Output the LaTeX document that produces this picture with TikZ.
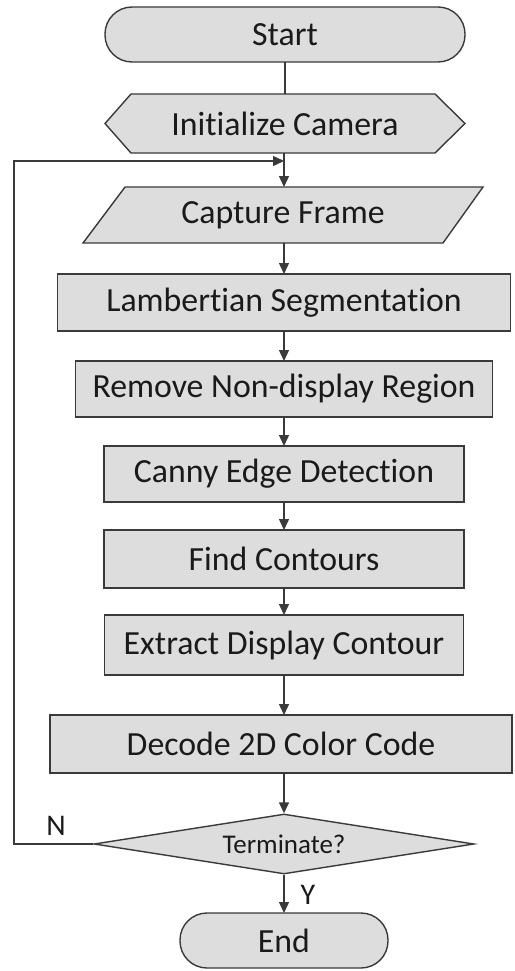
\documentclass[tikz,border=0pt]{standalone}
\usepackage{fontspec}
\setmainfont[Ligatures=NoCommon]{Carlito}
\usetikzlibrary{shapes.geometric,arrows.meta}
\definecolor{boxfill}{HTML}{DDDDDD}
\definecolor{boxline}{HTML}{3A3A3A}
\definecolor{txt}{HTML}{1A1A1A}
\begin{document}
\begin{tikzpicture}[x=1pt,y=-1pt,
  lbl/.style={text=txt,font=\fontsize{33.8}{38}\selectfont,inner sep=0pt,outer sep=0pt},
  procbox/.style={lbl,draw=boxline,fill=boxfill,line width=1.4pt,minimum height=57pt},
  ghost/.style={lbl,draw=none,minimum height=#1},
  term/.style={procbox,rounded corners=27pt,minimum height=55pt},
  decision/.style={diamond,draw=boxline,fill=boxfill,line width=1.4pt,text=txt,
     font=\fontsize{27}{30}\selectfont,minimum width=380pt,minimum height=60pt,inner sep=0pt,aspect=6.3},
  conn/.style={draw=boxline,line width=1.4pt},
  arr/.style={conn,-{Triangle[length=11pt,width=10pt]}},
  outline/.style={draw=boxline,fill=boxfill,line width=1.4pt,line join=miter},
  yn/.style={lbl,font=\fontsize{30}{34}\selectfont}
]
\useasboundingbox (0,0) rectangle (514,971);

\node[term,minimum width=360pt] (start) at (285,34.5) {Start};

\node[ghost=59pt,minimum width=360pt] (init) at (285,123.5) {};
\path[outline] (init.west) -- ([xshift=26pt]init.north west) -- ([xshift=-30pt]init.north east)
   -- (init.east) -- ([xshift=-30pt]init.south east) -- ([xshift=26pt]init.south west) -- cycle;
\node[lbl] at (init) {Initialize Camera};

\node[ghost=56pt,minimum width=400pt] (cap) at (283,215) {};
\path[outline] ([xshift=42pt]cap.north west) -- (cap.north east) -- ([xshift=-40pt]cap.south east)
   -- (cap.south west) -- cycle;
\node[lbl] at (cap) {Capture Frame};

\node[procbox,minimum width=453pt] (lamb) at (284,302.5) {Lambertian Segmentation};
\node[procbox,minimum width=417pt,minimum height=56pt] (remove) at (284,389) {Remove Non-display Region};
\node[procbox,minimum width=360pt,minimum height=56pt] (canny) at (284,474) {Canny Edge Detection};
\node[procbox,minimum width=360pt,minimum height=58pt] (find) at (284,559) {Find Contours};
\node[procbox,minimum width=359pt,minimum height=60pt] (extract) at (284,645) {Extract Display Contour};
\node[procbox,minimum width=462pt,minimum height=58pt] (decode) at (281,744) {Decode 2D Color Code};
\node[decision] (term) at (284,844) {Terminate?};
\node[term,minimum width=208pt] (end) at (284,940.5) {End};

\coordinate (loopA) at (14,844);
\coordinate (loopB) at (14,161);
\coordinate (loopC) at (284,161);

\draw[conn] (start.south) -- (init.north);
\draw[arr] (init.south -| loopC) -- (cap.north -| loopC);
\draw[arr] (cap.south -| loopC) -- (lamb.north -| loopC);
\draw[arr] (lamb.south) -- (remove.north);
\draw[arr] (remove.south) -- (canny.north);
\draw[arr] (canny.south) -- (find.north);
\draw[arr] (find.south) -- (extract.north);
\draw[arr] (extract.south) -- (extract.south |- decode.north);
\draw[arr] (decode.south -| term.north) -- (term.north);
\draw[arr] (term.south) -- (end.north);
\draw[arr] (term.west) -- (loopA) -- (loopB) -- (loopC);
\node[yn] (ylab) at (308,895) {Y};
\node[yn] (nlab) at (56,826) {N};
\end{tikzpicture}
\end{document}
